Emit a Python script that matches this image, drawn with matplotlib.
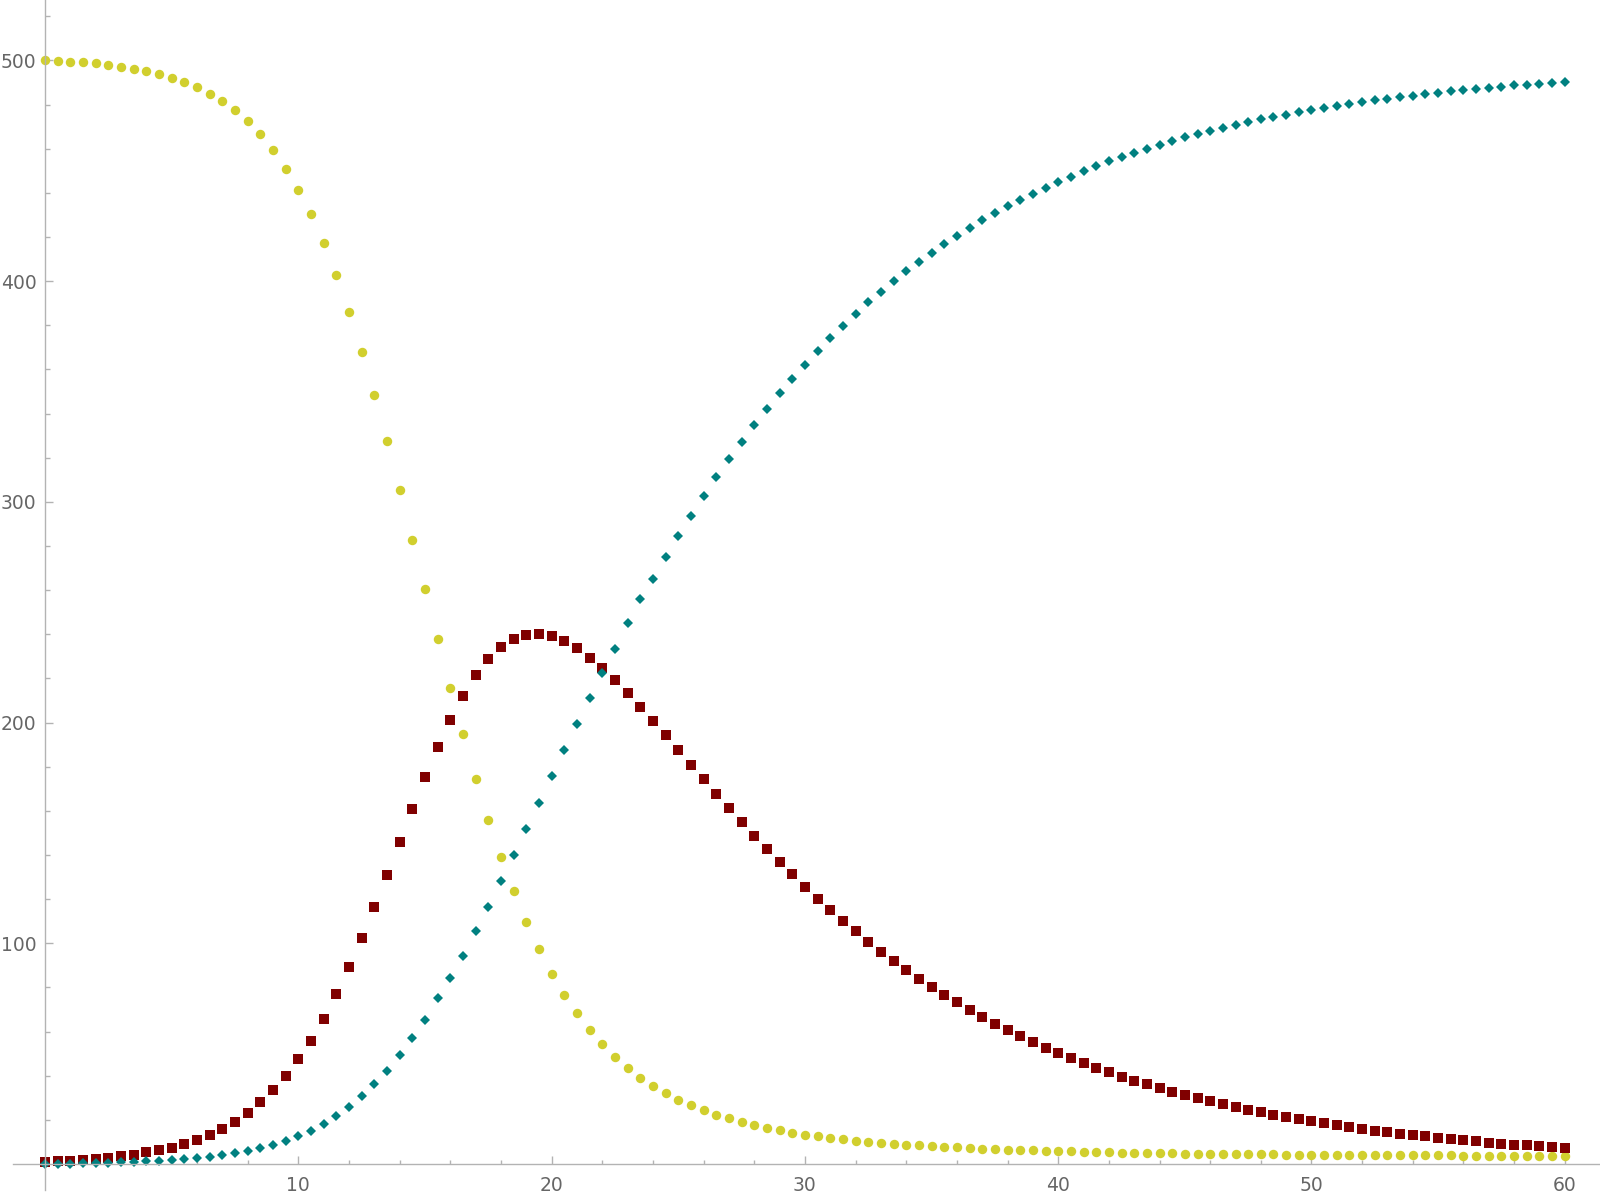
import numpy as np
import matplotlib
matplotlib.use('Agg')
import matplotlib.pyplot as plt
from matplotlib.ticker import FixedLocator

# time grid: 0 .. 60 in steps of 0.5
t = np.linspace(0, 60, 121)

# susceptible (yellow circles)
susceptible = [
    500.0, 499.8, 499.5, 499.2, 498.7, 498.1, 497.2, 496.3, 495.2, 493.9,
    492.2, 490.3, 487.9, 485.0, 481.5, 477.5, 472.5, 466.6, 459.5, 451.0,
    441.3, 430.3, 417.4, 402.8,
    386.1, 368.1, 348.6, 327.8, 305.6, 282.9,
    260.5, 237.9, 215.8, 194.7, 174.6, 156.0, 139.1, 123.5, 109.6, 97.2,
    86.2, 76.6,
    68.3, 60.8,
    54.2, 48.5, 43.5, 39.1, 35.3, 32.0, 29.1, 26.6, 24.3, 22.4,
    20.7, 19.0, 17.5, 16.3, 15.3, 14.2, 13.3, 12.5, 11.8, 11.2,
    10.6, 10.0, 9.5, 9.1, 8.8, 8.4, 8.1, 7.8, 7.5, 7.2,
    6.95, 6.7, 6.5, 6.3, 6.1, 5.95, 5.8, 5.65, 5.5,
    5.35, 5.25, 5.15, 5.05, 4.95, 4.85, 4.75, 4.7, 4.6, 4.55,
    4.5, 4.45, 4.4, 4.35, 4.3, 4.25, 4.2, 4.15, 4.1, 4.08,
    4.05, 4.0, 3.98, 3.95, 3.92, 3.9, 3.88, 3.86, 3.84, 3.82,
    3.8, 3.79, 3.78, 3.77, 3.76, 3.75, 3.74, 3.73,
]

# infected (dark red squares)
infected = [
    1.0, 1.2, 1.5, 1.8, 2.2, 2.8, 3.5, 4.2, 5.2, 6.2,
    7.4, 8.9, 10.9, 13.1, 15.9, 19.2, 23.1, 28.0, 33.4, 39.7,
    47.5, 55.9, 65.8, 76.9, 89.1,
    102.3, 116.3, 130.9, 145.9, 160.9, 175.3, 188.9, 201.3, 212.2, 221.4,
    228.6, 234.1, 237.7, 239.7, 240.1, 239.1, 237.0, 233.7, 229.4, 224.8,
    219.3, 213.4, 207.2, 200.8, 194.2, 187.6, 180.9, 174.3, 167.6, 161.3,
    154.8, 148.8, 142.7, 136.8, 131.3, 125.6, 120.2, 115.1, 110.1, 105.4,
    100.7, 96.2, 92.0, 87.9, 84.0, 80.2, 76.6, 73.3, 69.8, 66.6,
    63.6, 60.7, 57.9, 55.3, 52.7, 50.3,
    48.0, 45.8, 43.6, 41.5, 39.6, 37.8, 36.1, 34.4, 32.8, 31.3,
    29.8, 28.4, 27.0, 25.8, 24.6, 23.4, 22.3, 21.3, 20.4, 19.3,
    18.4, 17.5, 16.8, 15.9, 15.1, 14.3, 13.7, 13.1, 12.5, 11.9,
    11.3, 10.7, 10.3, 9.7, 9.2, 8.8, 8.5, 8.0, 7.7, 7.2,
]

# recovered (teal diamonds)
recovered = [
    0.0, 0.1, 0.2, 0.3, 0.45, 0.6, 0.8, 0.9, 1.2, 1.5,
    1.8, 2.1, 2.6, 3.2, 3.9, 4.8, 5.9, 7.1, 8.6, 10.4,
    12.5, 15.1, 18.1, 21.7, 26.0, 30.7, 36.1, 42.3, 49.3,
    56.9, 65.3,
    75.0, 84.1, 94.4, 105.4, 116.4, 128.1, 139.9, 151.9, 163.7, 175.7,
    187.7, 199.5, 211.1, 222.5, 233.5, 245.0,
    255.8, 265.1, 274.9, 284.5, 293.6, 302.5, 311.1, 319.3, 327.3, 334.8,
    342.1, 349.2, 355.8, 362.2, 368.4, 374.3, 379.8, 385.3, 390.4, 395.2,
    400.1, 404.5, 408.7, 412.9, 416.9, 420.6, 424.1, 427.6, 430.8, 434.0,
    436.9, 439.6, 442.4, 444.9,
    447.4, 449.9, 452.0, 454.3, 456.3, 458.2, 459.9, 461.7, 463.4, 465.1,
    466.7, 468.0, 469.4, 470.6, 472.1, 473.3, 474.4, 475.4, 476.5, 477.6,
    478.5, 479.4, 480.3, 481.2, 482.0, 482.7, 483.3, 484.0, 484.8, 485.4,
    486.0, 486.5, 487.1, 487.7, 488.1, 488.8, 489.0, 489.5, 489.8, 490.2,
]

x_major = [10, 20, 30, 40, 50, 60]
y_major = [100, 200, 300, 400, 500]

axis_col = '#b3b3b3'
label_col = '#666666'

fig = plt.figure(figsize=(16, 12), dpi=100)
ax = fig.add_axes([13 / 1600, 10 / 1200, 1587 / 1600, 1190 / 1200])

ax.plot(t, susceptible, 'o', color='#d1cf2e', markersize=6.8, markeredgewidth=0, clip_on=False)
ax.plot(t, infected, 's', color='#800000', markersize=6.5, markeredgewidth=0, clip_on=False)
ax.plot(t, recovered, 'D', color='#008080', markersize=4.6, markeredgewidth=0, clip_on=False)

ax.set_xlim(-1.263, 61.39)
ax.set_ylim(-11.8, 527.4)

for side in ['top', 'right']:
    ax.spines[side].set_visible(False)
ax.spines['left'].set_position(('data', 0))
ax.spines['bottom'].set_position(('data', 0))
for side in ['left', 'bottom']:
    ax.spines[side].set_color(axis_col)
    ax.spines[side].set_linewidth(1.0)

ax.xaxis.set_major_locator(FixedLocator(x_major))
ax.xaxis.set_minor_locator(FixedLocator([v for v in range(2, 62, 2) if v % 10]))
ax.yaxis.set_major_locator(FixedLocator(y_major))
ax.yaxis.set_minor_locator(FixedLocator([v for v in range(20, 540, 20) if v % 100]))

ax.tick_params(axis='both', which='both', direction='in', color=axis_col, width=1.0,
               labelcolor=label_col, labelsize=13.5)
ax.tick_params(axis='x', which='major', length=5.5, pad=9)
ax.tick_params(axis='x', which='minor', length=3.2)
ax.tick_params(axis='y', which='major', length=5.5, pad=6)
ax.tick_params(axis='y', which='minor', length=3.5)

fig.savefig('out.png', dpi=100)
